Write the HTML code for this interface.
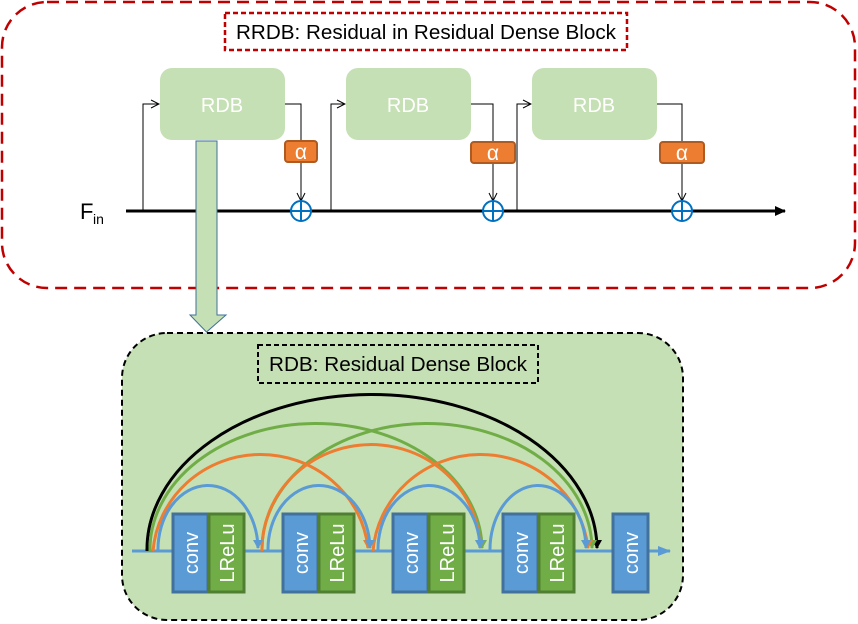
<!DOCTYPE html>
<html><head><meta charset="utf-8"><style>
html,body{margin:0;padding:0;background:#fff;width:858px;height:624px;overflow:hidden}
svg{display:block}
text{font-family:"Liberation Sans",sans-serif}
</style></head><body>
<svg width="858" height="624" viewBox="0 0 858 624" xmlns="http://www.w3.org/2000/svg">
<defs>
<marker id="ob" markerWidth="10" markerHeight="10" refX="9" refY="5" orient="auto" markerUnits="userSpaceOnUse"><path d="M1,1 L9,5 L1,9" fill="none" stroke="#000" stroke-width="1"/></marker>
<marker id="fb" markerWidth="12" markerHeight="12" refX="10" refY="6" orient="auto" markerUnits="userSpaceOnUse"><path d="M0,1 L11,6 L0,11z" fill="#000"/></marker>
<marker id="mBl" markerWidth="12" markerHeight="12" refX="6" refY="10" orient="0" markerUnits="userSpaceOnUse"><path d="M1,2 L11,2 L6,11z" fill="#5b9bd5"/></marker>
<marker id="mOr" markerWidth="12" markerHeight="12" refX="6" refY="10" orient="0" markerUnits="userSpaceOnUse"><path d="M1,2 L11,2 L6,11z" fill="#ed7d31"/></marker>
<marker id="mGr" markerWidth="12" markerHeight="12" refX="6" refY="10" orient="0" markerUnits="userSpaceOnUse"><path d="M1,2 L11,2 L6,11z" fill="#70ad47"/></marker>
<marker id="mBk" markerWidth="12" markerHeight="12" refX="6" refY="10" orient="0" markerUnits="userSpaceOnUse"><path d="M1,2 L11,2 L6,11z" fill="#000"/></marker>
<marker id="mLine" markerWidth="14" markerHeight="12" refX="12" refY="6" orient="auto" markerUnits="userSpaceOnUse"><path d="M0,1 L13,6 L0,11z" fill="#5b9bd5"/></marker>
</defs>

<rect x="2" y="2" width="853" height="286" rx="45" fill="none" stroke="#c00000" stroke-width="2.5" stroke-dasharray="12,7"/>
<rect x="225" y="13" width="402" height="37" fill="#fff" stroke="#c00000" stroke-width="2.5" stroke-dasharray="5,3"/>
<text x="426" y="39" font-size="20" text-anchor="middle" fill="#000" textLength="380" lengthAdjust="spacingAndGlyphs">RRDB: Residual in Residual Dense Block</text>

<line x1="126" y1="211" x2="785" y2="211" stroke="#000" stroke-width="3" marker-end="url(#fb)"/>
<text x="80" y="219" font-size="22">F</text><text x="93" y="224" font-size="14">in</text>

<g fill="#c5e0b4">
<rect x="160" y="68" width="125" height="72" rx="12"/>
<rect x="346" y="68" width="125" height="72" rx="12"/>
<rect x="532" y="68" width="125" height="72" rx="12"/>
</g>
<g font-size="20" fill="#fff" text-anchor="middle">
<text x="222" y="112">RDB</text><text x="408" y="112">RDB</text><text x="594" y="112">RDB</text>
</g>

<g stroke="#000" stroke-width="1" fill="none">
<path d="M143,211 V104 H159" marker-end="url(#ob)"/>
<path d="M331,211 V104 H345" marker-end="url(#ob)"/>
<path d="M517,211 V104 H531" marker-end="url(#ob)"/>
<path d="M285,104 H301 V201" marker-end="url(#ob)"/>
<path d="M471,104 H493 V201" marker-end="url(#ob)"/>
<path d="M657,104 H682 V201" marker-end="url(#ob)"/>
</g>
<g fill="#ed7d31" stroke="#ae5a21" stroke-width="2">
<rect x="285" y="141" width="32" height="21" rx="3"/>
<rect x="471" y="142" width="44" height="21" rx="3"/>
<rect x="660" y="142" width="44" height="21" rx="3"/>
</g>
<g font-size="21" fill="#fff" text-anchor="middle">
<text x="301" y="159">α</text><text x="493" y="160">α</text><text x="682" y="160">α</text>
</g>
<g fill="#fff" stroke="#0070c0" stroke-width="2">
<circle cx="301" cy="211" r="10"/><circle cx="493" cy="211" r="10"/><circle cx="682" cy="211" r="10"/>
</g>
<g stroke="#0070c0" stroke-width="2">
<line x1="291" y1="211" x2="311" y2="211"/><line x1="301" y1="201" x2="301" y2="221"/>
<line x1="483" y1="211" x2="503" y2="211"/><line x1="493" y1="201" x2="493" y2="221"/>
<line x1="672" y1="211" x2="692" y2="211"/><line x1="682" y1="201" x2="682" y2="221"/>
</g>

<path d="M196,141 H217 V315 H226 L206.5,332 L190,315 H196 Z" fill="#c5e0b4" stroke="#41719c" stroke-width="1"/>

<rect x="122" y="333" width="561" height="287" rx="45" fill="#c5e0b4" stroke="#000" stroke-width="2" stroke-dasharray="6,4"/>
<rect x="258" y="345" width="280" height="38" fill="none" stroke="#000" stroke-width="2" stroke-dasharray="5,3"/>
<text x="398" y="371" font-size="20" text-anchor="middle" textLength="258" lengthAdjust="spacingAndGlyphs">RDB: Residual Dense Block</text>

<line x1="132" y1="551" x2="670" y2="551" stroke="#5b9bd5" stroke-width="3" marker-end="url(#mLine)"/>

<g fill="none" stroke-width="3">
<path d="M147,551 A225,155 0 0 1 597,548" stroke="#000" marker-end="url(#mBk)"/>
<path d="M150,551 A166,126 0 0 1 482,548" stroke="#70ad47" marker-end="url(#mGr)"/>
<path d="M262,551 A165,126 0 0 1 592,548" stroke="#70ad47" marker-end="url(#mGr)"/>
<path d="M153,551 A108,105 0 0 1 368,548" stroke="#ed7d31" marker-end="url(#mOr)"/>
<path d="M262,551 A109,105 0 0 1 480,548" stroke="#ed7d31" marker-end="url(#mOr)"/>
<path d="M373,551 A108,105 0 0 1 588,548" stroke="#ed7d31" marker-end="url(#mOr)"/>
<path d="M158,551 A50,64 0 0 1 258,548" stroke="#5b9bd5" marker-end="url(#mBl)"/>
<path d="M268,551 A51,64 0 0 1 370,548" stroke="#5b9bd5" marker-end="url(#mBl)"/>
<path d="M378,551 A51,64 0 0 1 480,548" stroke="#5b9bd5" marker-end="url(#mBl)"/>
<path d="M490,551 A48,64 0 0 1 586,548" stroke="#5b9bd5" marker-end="url(#mBl)"/>
</g>

<g stroke-width="3">
<rect x="173" y="514" width="35" height="78" fill="#5b9bd5" stroke="#41719c"/>
<rect x="209" y="514" width="35" height="78" fill="#70ad47" stroke="#507e32"/>
<rect x="283" y="514" width="35" height="78" fill="#5b9bd5" stroke="#41719c"/>
<rect x="319" y="514" width="35" height="78" fill="#70ad47" stroke="#507e32"/>
<rect x="393" y="514" width="35" height="78" fill="#5b9bd5" stroke="#41719c"/>
<rect x="429" y="514" width="35" height="78" fill="#70ad47" stroke="#507e32"/>
<rect x="503" y="514" width="35" height="78" fill="#5b9bd5" stroke="#41719c"/>
<rect x="539" y="514" width="35" height="78" fill="#70ad47" stroke="#507e32"/>
<rect x="613" y="514" width="35" height="78" fill="#5b9bd5" stroke="#41719c"/>
</g>
<g font-size="20" fill="#fff" text-anchor="middle">
<text transform="translate(198,553) rotate(-90)">conv</text>
<text transform="translate(234,553) rotate(-90)">LReLu</text>
<text transform="translate(308,553) rotate(-90)">conv</text>
<text transform="translate(344,553) rotate(-90)">LReLu</text>
<text transform="translate(418,553) rotate(-90)">conv</text>
<text transform="translate(454,553) rotate(-90)">LReLu</text>
<text transform="translate(528,553) rotate(-90)">conv</text>
<text transform="translate(564,553) rotate(-90)">LReLu</text>
<text transform="translate(638,553) rotate(-90)">conv</text>
</g>
</svg>
</body></html>
